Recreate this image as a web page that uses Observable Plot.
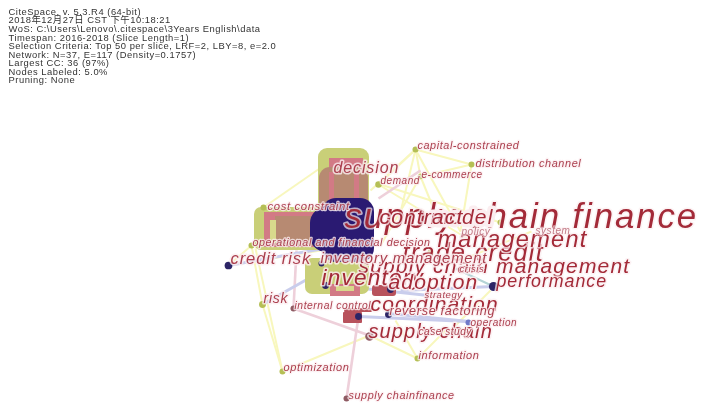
<!DOCTYPE html>
<html><head><meta charset="utf-8">
<script src="https://cdn.jsdelivr.net/npm/d3@7"></script>
<script src="https://cdn.jsdelivr.net/npm/@observablehq/plot@0.6"></script>
<style>html,body{margin:0;padding:0;background:#fff}svg{display:block;filter:blur(.45px)}svg text{letter-spacing:.055em}</style>
</head><body><div id="c"></div>
<script>
const headerLines = [
 "CiteSpace, v. 5.3.R4 (64-bit)",
 "2018年12月27日 CST 下午10:18:21",
 "WoS: C:\\Users\\Lenovo\\.citespace\\3Years English\\data",
 "Timespan: 2016-2018 (Slice Length=1)",
 "Selection Criteria: Top 50 per slice, LRF=2, LBY=8, e=2.0",
 "Network: N=37, E=117 (Density=0.1757)",
 "Largest CC: 36 (97%)",
 "Nodes Labeled: 5.0%",
 "Pruning: None"
];
const headerRow = [11,19.5,28,37,45.5,54,62.5,71,79.5];

// label, label x, label y, label size, tone, halo
const labels = [
 ["supply chain finance",344,216,34.8,"d",.7],
 ["coordination",370,304,21,"d",.7],
 ["trade credit",402,252,25,"d",.75],
 ["supply chain management",358,266,21,"d",.75],
 ["management",437,239,23.5,"d",.75],
 ["supply chain",368,331,20,"d",.75],
 ["inventory",321,277,22.5,"d",.8],
 ["model",430,217,21,"d",1],
 ["contract",379,217,21,"d",.75],
 ["adoption",388,282,21,"d",.9],
 ["performance",496,281,17.8,"d",.75],
 ["decision",333,167,16,"m",.8],
 ["demand",380,180,10,"m",.8],
 ["e-commerce",421,174,10,"m",.8],
 ["capital-constrained",417,145,10.8,"m",.8],
 ["distribution channel",475,163,10.9,"m",.8],
 ["cost constraint",267,206,11.3,"m",.8],
 ["operational and financial decision",252,242,10.7,"m",.8],
 ["credit risk",230,258,16.5,"m",.8],
 ["inventory management",320,258,14.8,"m",.85],
 ["policy",461,231,10,"l",.6],
 ["system",535,230,10,"l",.6],
 ["crisis",459,268,9.5,"m",.8],
 ["strategy",424,294,9.5,"m",.8],
 ["risk",263,298,14,"m",.8],
 ["internal control",294,305,10.3,"m",.8],
 ["reverse factoring",389,310,12.6,"m",.85],
 ["operation",470,322,10,"m",.8],
 ["case study",418,331,10,"m",.85],
 ["information",418,355,11,"m",.8],
 ["optimization",283,367,11,"m",.8],
 ["supply chainfinance",348,395,10.8,"m",.8]
];
const tones = ["d","m","l"];
const toneColors = ["#a32a38","#ab3f4e","#c27a86"];

// from x, from y, to x, to y, group
const edges = [
 [415,149,378,184,"y"],[415,149,471,164,"y"],[415,149,420,176,"y"],[415,149,398,220,"y"],[471,164,420,176,"y"],
 [471,164,460,231,"y"],[415,149,460,231,"y"],[420,176,440,225,"y"],[378,184,470,240,"y"],[415,149,370,190,"y"],
 [263,207,345,150,"y"],[251,245,228,265,"y"],[251,245,262,304,"y"],[262,304,282,371,"y"],[282,371,369,335,"y"],
 [255,248,282,371,"y"],[417,358,395,320,"y"],[417,358,445,330,"y"],[445,335,490,290,"y"],[369,335,417,358,"y"],
 [228,265,320,250,"y"],[420,176,380,245,"y"],[531,231,460,260,"y"],[380,184,500,222,"y"],
 [346,398,358,316,"p"],[293,308,369,335,"p"],[293,308,296,250,"p"],[378,198,420,170,"p"],
 [262,304,340,260,"v"],[228,265,340,245,"v"],[358,316,468,321,"v"],[388,313,468,321,"v"],[400,290,493,286,"v"],
 [335,285,428,295,"v"],[455,268,493,286,"t"]
];
const edgeGroups = ["y","p","v","t"];
const edgeColors = ["#f8f7bd","#eed0da","#c9cdec","#b4d4d6"];
const edgeWidths = [2,2.6,3,2];

// x1, x2, y1, y2, group, corner (ring blocks of the central burst nodes)
const blocks = [
 [318,369,148,215,"olive",9],
 [254,325,207,250,"olive",7],
 [305,369,258,294,"olive",7],
 [329,363,158,215,"pink",0],
 [264,330,212,247,"pink",0],
 [319,368,167,215,"tan",11],
 [275,325,216,246,"tan",0],
 [270,276,220,243,"olive2",0],
 [329,334,172,208,"pink",0],
 [354,359,172,208,"pink",0],
 [310,352,207,252,"navy",16],
 [322,374,198,262,"navy",14],
 [330,360,284,296,"pink",0],
 [336,354,286,291,"olive2",0],
 [372,396,285,296,"red",3],
 [343,362,312,323,"red",1],
 [344,372,308,312,"red",1]
];
const blockGroups = ["olive","olive2","pink","tan","navy","red"];
const blockColors = ["#c9cf78","#d8d98c","#d27a85","#b78a72","#2a1a72","#b8525c"];

// x, y, radius, group
const nodes = [
 [415,149,3,"o"],[471,164,3,"o"],[420,176,2.5,"o"],[378,184,3.5,"o"],[263,207,3,"o"],[251,245,3,"o"],
 [262,304,4,"o"],[282,371,3,"o"],[417,358,3,"o"],[228,265,5,"n"],[321,263,3,"n"],[493,286,7,"n"],
 [325,285,4,"n"],[388,314,4,"n"],[358,316,4,"n"],[390,289,4,"n"],[468,322,3,"v"],[293,308,3,"b"],
 [346,398,3,"b"],[369,336,6,"b"],[430,252,3,"o"],[500,222,3,"o"]
];
const nodeGroups = ["o","n","v","b"];
const nodeColors = ["#b5bf55","#2c2566","#6f78c9","#8f5b63"];

const ed = edges.map(([x1,y1,x2,y2,g])=>({x1,y1,x2,y2,g}));
const bl = blocks.map(([x1,x2,y1,y2,g,r])=>({x1,x2,y1,y2,g,r}));
const nd = nodes.map(([x,y,r,g])=>({x,y,r,g}));
const lb = labels.map(([t,x,y,s,k,h])=>({t,x,y,s,k,h}));
const pick = (keys,vals,k)=>vals[keys.indexOf(k)];

const chart = Plot.plot({
 width:701,height:403,margin:0,
 x:{domain:[0,701],range:[0,701],axis:null},
 y:{domain:[0,403],range:[0,403],axis:null},
 style:{background:"#fff"},
 marks:[
  ...edgeGroups.map(g=>Plot.link(ed.filter(d=>d.g===g),{x1:"x1",y1:"y1",x2:"x2",y2:"y2",stroke:pick(edgeGroups,edgeColors,g),strokeWidth:pick(edgeGroups,edgeWidths,g)})),
  ...bl.map(d=>Plot.rect([d],{x1:"x1",x2:"x2",y1:"y1",y2:"y2",fill:pick(blockGroups,blockColors,d.g),rx:d.r})),
  Plot.dot(nd,{x:"x",y:"y",r:"r",fill:d=>pick(nodeGroups,nodeColors,d.g)}),
  ...lb.map(d=>Plot.text([d],{x:"x",y:"y",text:"t",fontSize:d.s,textAnchor:"start",fontFamily:"Liberation Sans",fontStyle:"italic",
    fill:pick(tones,toneColors,d.k),stroke:"#fbeef0",strokeOpacity:d.h,strokeWidth:d.h===1?7:(d.s>13?3.2:2.4),paintOrder:"stroke"})),
  Plot.text(headerLines,{x:()=>8,y:(d,i)=>headerRow[i],text:d=>d,fontSize:9.4,textAnchor:"start",fill:"#333",
    fontFamily:"Liberation Sans, Noto Sans CJK SC"})
 ]
});
document.getElementById("c").append(chart);
</script></body></html>
